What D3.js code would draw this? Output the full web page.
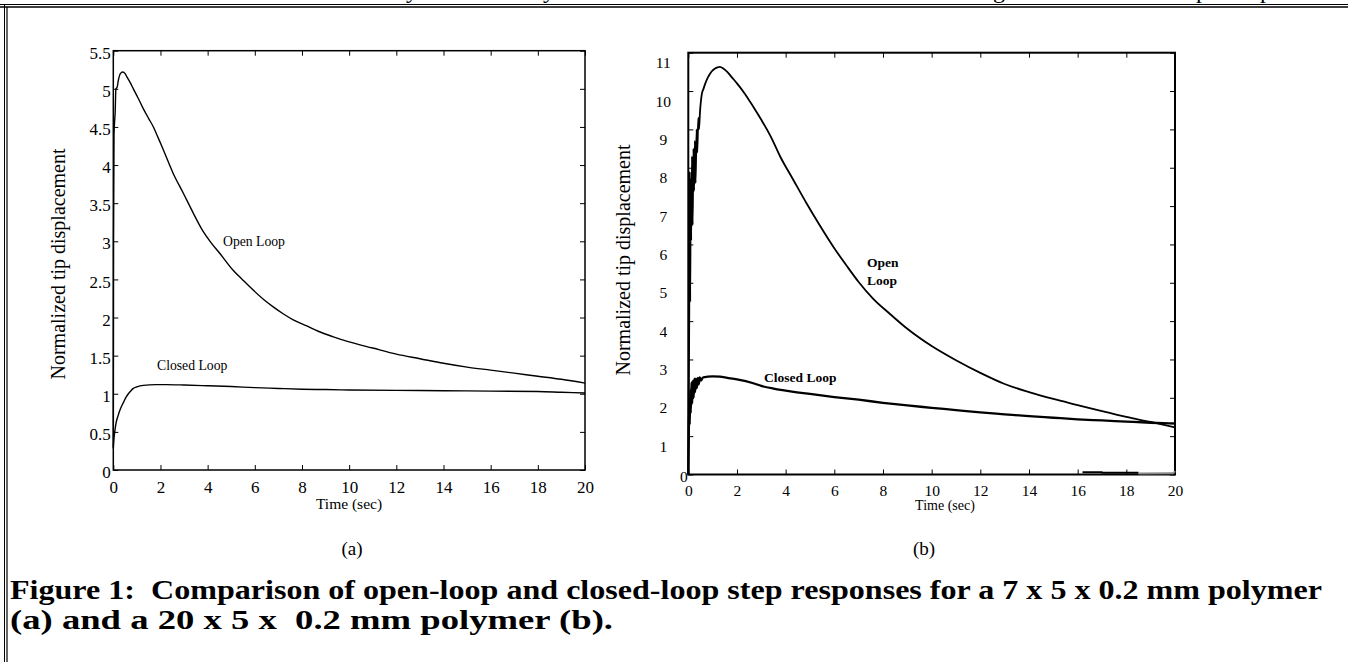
<!DOCTYPE html>
<html>
<head>
<meta charset="utf-8">
<script src="https://cdn.jsdelivr.net/npm/d3@7/dist/d3.min.js"></script>
<style>
  body { margin: 0; background: #fff; }
  svg { display: block; }
  text { font-family: "Liberation Serif", "Times New Roman", serif; fill: #000; }
</style>
</head>
<body>
<div id="fig"></div>
<script>
// ---- data ----
const timeTicks = [0, 2, 4, 6, 8, 10, 12, 14, 16, 18, 20];
const aYTicks = [0, 0.5, 1, 1.5, 2, 2.5, 3, 3.5, 4, 4.5, 5, 5.5];
const bYTicks = [0, 1, 2, 3, 4, 5, 6, 7, 8, 9, 10, 11];

// (a) 7 x 5 x 0.2 mm polymer
const aOpenT = [0, 0.01, 0.03, 0.08, 0.11, 0.16, 0.22, 0.3, 0.4, 0.5, 0.57, 0.7, 0.85, 1.05, 1.27, 1.5, 1.7, 1.9, 2.12,
  2.54, 2.97, 3.39, 3.75, 4.15, 4.52, 5.08, 5.5, 5.93, 6.4, 6.78, 7.2, 7.63, 8.2, 8.69, 9.3, 10, 11, 12, 13, 14, 15, 16, 17, 18, 19, 20];
const aOpenY = [0.3, 3.0, 4.4, 4.7, 5.0, 5.02, 5.12, 5.2, 5.22, 5.2, 5.16, 5.09, 5.0, 4.88, 4.74, 4.61, 4.5, 4.36, 4.2,
  3.89, 3.63, 3.37, 3.16, 2.98, 2.84, 2.62, 2.49, 2.36, 2.23, 2.14, 2.05, 1.97, 1.89, 1.82, 1.75, 1.68, 1.6, 1.52, 1.46, 1.4, 1.35, 1.31, 1.27, 1.23, 1.19, 1.14];
const aClosedT = [0, 0.03, 0.07, 0.12, 0.21, 0.3, 0.42, 0.53, 0.64, 0.75, 0.85, 1.0, 1.27, 1.8, 2.26, 3, 4, 5, 6, 7, 8, 9, 10, 12, 14, 16, 18, 19, 20];
const aClosedY = [0.28, 0.42, 0.52, 0.62, 0.72, 0.8, 0.88, 0.95, 1.0, 1.04, 1.07, 1.09, 1.11, 1.12, 1.12, 1.115, 1.105, 1.095, 1.08, 1.07, 1.06, 1.055, 1.05, 1.045, 1.04, 1.035, 1.03, 1.02, 1.01];

// (b) 20 x 5 x 0.2 mm polymer
const bOpenT = [0, 0.02, 0.04, 0.06, 0.08, 0.1, 0.12, 0.15, 0.18, 0.21, 0.24, 0.27, 0.3, 0.34, 0.37, 0.41, 0.44, 0.48, 0.55, 0.62, 0.7, 0.8, 0.9, 1.0, 1.1, 1.2, 1.3,
  1.45, 1.6, 1.8, 2.0, 2.3, 2.67, 3.0, 3.4, 3.77, 4.3, 4.87, 5.4, 6.0, 6.5, 7.0, 7.6, 8.3, 9, 10, 11, 12, 13, 14, 15, 16, 17, 18, 19, 20];
const bOpenY = [0, 2.0, 4.3, 7.9, 4.5, 7.7, 6.1, 8.3, 6.5, 8.5, 7.4, 8.7, 7.6, 9.0, 8.4, 9.3, 9.0, 9.45, 9.9, 10.05, 10.2, 10.35, 10.46, 10.54, 10.59, 10.62, 10.63,
  10.58, 10.5, 10.35, 10.2, 9.95, 9.59, 9.25, 8.8, 8.3, 7.7, 7.06, 6.5, 5.9, 5.45, 5.02, 4.58, 4.18, 3.8, 3.35, 2.98, 2.65, 2.36, 2.15, 1.97, 1.81, 1.65, 1.5, 1.37, 1.23];
const bClosedT = [0, 0.02, 0.04, 0.06, 0.08, 0.1, 0.13, 0.16, 0.19, 0.22, 0.25, 0.28, 0.31, 0.35, 0.39, 0.43, 0.47, 0.52, 0.6, 0.8, 1.0, 1.3, 1.6, 2.0, 2.67,
  3.0, 3.5, 4, 5, 6, 7, 8, 9, 10, 11, 12, 13, 14, 15, 16, 17, 18, 19, 20];
const bClosedY = [0, 1.0, 1.8, 1.3, 2.2, 1.6, 2.4, 1.85, 2.45, 2.0, 2.5, 2.15, 2.5, 2.25, 2.52, 2.35, 2.53, 2.45, 2.53, 2.55, 2.56, 2.55, 2.52, 2.48, 2.38,
  2.31, 2.24, 2.19, 2.1, 2.02, 1.95, 1.87, 1.8, 1.74, 1.68, 1.62, 1.57, 1.52, 1.48, 1.44, 1.41, 1.38, 1.35, 1.33];
// short trace lying near zero at the end of (b)
const bDriftT = [16.2, 17.0, 17.0, 18.5];
const bDriftY = [0.06, 0.06, 0.045, 0.045];
const bDriftGrayT = [18.5, 19.9, 20];
const bDriftGrayY = [0.025, 0.03, 0.09];

// ---- page ----
const W = 1348, H = 662;
const svg = d3.select("#fig").append("svg")
  .attr("width", W).attr("height", H)
  .attr("viewBox", "0 0 " + W + " " + H);

// frame of the page (double rule on top and left)
svg.append("line").attr("x1", 0).attr("x2", W).attr("y1", 4.5).attr("y2", 4.5).attr("stroke", "#000").attr("stroke-width", 1);
svg.append("line").attr("x1", 0).attr("x2", W).attr("y1", 7).attr("y2", 7).attr("stroke", "#000").attr("stroke-width", 1.5);
svg.append("line").attr("x1", 4.5).attr("x2", 4.5).attr("y1", 4.5).attr("y2", H).attr("stroke", "#000").attr("stroke-width", 1);
svg.append("line").attr("x1", 7).attr("x2", 7).attr("y1", 7).attr("y2", H).attr("stroke", "#000").attr("stroke-width", 1.2);

// bottom of the text line above the figure (only descenders are visible)
[["y", 412], ["y", 549], ["g", 999], ["p", 1202], ["p", 1266]].forEach(g => {
  svg.append("text").attr("x", g[1]).attr("y", -2).attr("text-anchor", "middle")
    .style("font-size", "24px").text(g[0]);
});

function drawPanel(cfg) {
  const x = d3.scaleLinear().domain([0, 20]).range([cfg.x0, cfg.x1]);
  const y = d3.scaleLinear().domain(cfg.yDomain).range([cfg.y0, cfg.y1]);
  const g = svg.append("g");

  // inward ticks on all four sides
  g.append("g").attr("transform", "translate(0," + cfg.y0 + ")")
    .call(d3.axisBottom(x).tickValues(timeTicks).tickSizeInner(-5).tickSizeOuter(0).tickFormat(d => d))
    .call(a => a.select(".domain").remove())
    .call(a => a.selectAll("text").attr("y", cfg.xLabelY).attr("dy", null).style("font-size", cfg.tickFont + "px"));
  g.append("g").attr("transform", "translate(0," + cfg.y1 + ")")
    .call(d3.axisTop(x).tickValues(timeTicks).tickSizeInner(-5).tickSizeOuter(0).tickFormat(""))
    .call(a => a.select(".domain").remove());
  g.append("g").attr("transform", "translate(" + cfg.x0 + ",0)")
    .call(d3.axisLeft(y).tickValues(cfg.yTicks).tickSizeInner(-5).tickSizeOuter(0).tickFormat(d => d))
    .call(a => a.select(".domain").remove())
    .call(a => cfg.yLabels(a.selectAll("text").style("font-size", cfg.tickFont + "px")));
  g.append("g").attr("transform", "translate(" + cfg.x1 + ",0)")
    .call(d3.axisRight(y).tickValues(cfg.yTicks).tickSizeInner(-5).tickSizeOuter(0).tickFormat(""))
    .call(a => a.select(".domain").remove());
  g.selectAll(".tick line").attr("stroke", "#000").attr("stroke-width", 1);
  g.selectAll(".tick text").attr("fill", "#000").style("font-family", "Liberation Serif, serif");

  // box
  g.append("rect").attr("x", cfg.x0).attr("y", cfg.y1)
    .attr("width", cfg.x1 - cfg.x0).attr("height", cfg.y0 - cfg.y1)
    .attr("fill", "none").attr("stroke", "#000").attr("stroke-width", cfg.boxWidth);

  const line = d3.line().x(d => x(d[0])).y(d => y(d[1])).curve(d3.curveMonotoneX);
  cfg.series.forEach(s => {
    g.append("path").datum(d3.zip(s.t, s.v))
      .attr("d", line).attr("fill", "none")
      .attr("stroke", s.color || "#000").attr("stroke-width", s.width)
      .attr("stroke-linejoin", "round");
  });

  cfg.notes.forEach(n => {
    g.append("text").attr("x", n.x).attr("y", n.y)
      .style("font-size", n.size + "px").style("font-weight", n.bold ? "bold" : "normal")
      .text(n.text);
  });

  // axis titles
  g.append("text").attr("x", cfg.xTitle[0]).attr("y", cfg.xTitle[1]).attr("text-anchor", "middle")
    .style("font-size", cfg.xTitle[2] + "px").text("Time (sec)");
  g.append("text").attr("transform", "translate(" + cfg.yTitle[0] + "," + cfg.yTitle[1] + ") rotate(-90)")
    .attr("text-anchor", "middle").attr("dy", "0.35em")
    .style("font-size", "20px").text("Normalized tip displacement");
  g.append("text").attr("x", cfg.sub[0]).attr("y", cfg.sub[1]).attr("text-anchor", "middle")
    .style("font-size", "19px").text(cfg.sub[2]);
}

drawPanel({
  x0: 113.3, x1: 585, y0: 470, y1: 50.7, yDomain: [0, 5.5], yTicks: aYTicks,
  boxWidth: 1.5, tickFont: 17, xLabelY: 22.5,
  yLabels: t => t.attr("x", -2.5).attr("y", 2).attr("dy", "0.33em"),
  series: [
    { t: aOpenT, v: aOpenY, width: 1.4 },
    { t: aClosedT, v: aClosedY, width: 1.4 }
  ],
  notes: [
    { x: 223, y: 246, size: 13.7, text: "Open Loop" },
    { x: 157, y: 370, size: 13.7, text: "Closed Loop" }
  ],
  xTitle: [349, 509, 15.5], yTitle: [58, 264], sub: [352, 555, "(a)"]
});

drawPanel({
  x0: 688.3, x1: 1175, y0: 474.5, y1: 52.7, yDomain: [0, 11], yTicks: bYTicks,
  boxWidth: 2, tickFont: 15.5, xLabelY: 21,
  // the scanned labels sit about 10px under their tick marks; 0 sits on the axis
  yLabels: t => t.attr("x", d => d === 0 ? -0.5 : -25).attr("text-anchor", d => d === 0 ? "end" : "middle")
    .attr("y", d => d === 0 ? 1.5 : 10).attr("dy", "0.33em"),
  series: [
    { t: bOpenT, v: bOpenY, width: 1.8 },
    { t: bClosedT, v: bClosedY, width: 2.3 },
    { t: bDriftT, v: bDriftY, width: 2 },
    { t: bDriftGrayT, v: bDriftGrayY, width: 2, color: "#888" }
  ],
  notes: [
    { x: 867, y: 267, size: 13.5, bold: true, text: "Open" },
    { x: 867, y: 285, size: 13.5, bold: true, text: "Loop" },
    { x: 764, y: 382, size: 13.5, bold: true, text: "Closed Loop" }
  ],
  xTitle: [945, 510, 14], yTitle: [623, 260], sub: [924, 555, "(b)"]
});

// caption
svg.append("text").attr("x", 10).attr("y", 599).attr("xml:space", "preserve")
  .style("font-size", "28px").style("font-weight", "bold").style("white-space", "pre")
  .attr("textLength", 1312).attr("lengthAdjust", "spacingAndGlyphs")
  .text("Figure 1:  Comparison of open-loop and closed-loop step responses for a 7 x 5 x 0.2 mm polymer");
svg.append("text").attr("x", 10).attr("y", 629).attr("xml:space", "preserve")
  .style("font-size", "28px").style("font-weight", "bold").style("white-space", "pre")
  .attr("textLength", 603).attr("lengthAdjust", "spacingAndGlyphs")
  .text("(a) and a 20 x 5 x  0.2 mm polymer (b).");
</script>
</body>
</html>
